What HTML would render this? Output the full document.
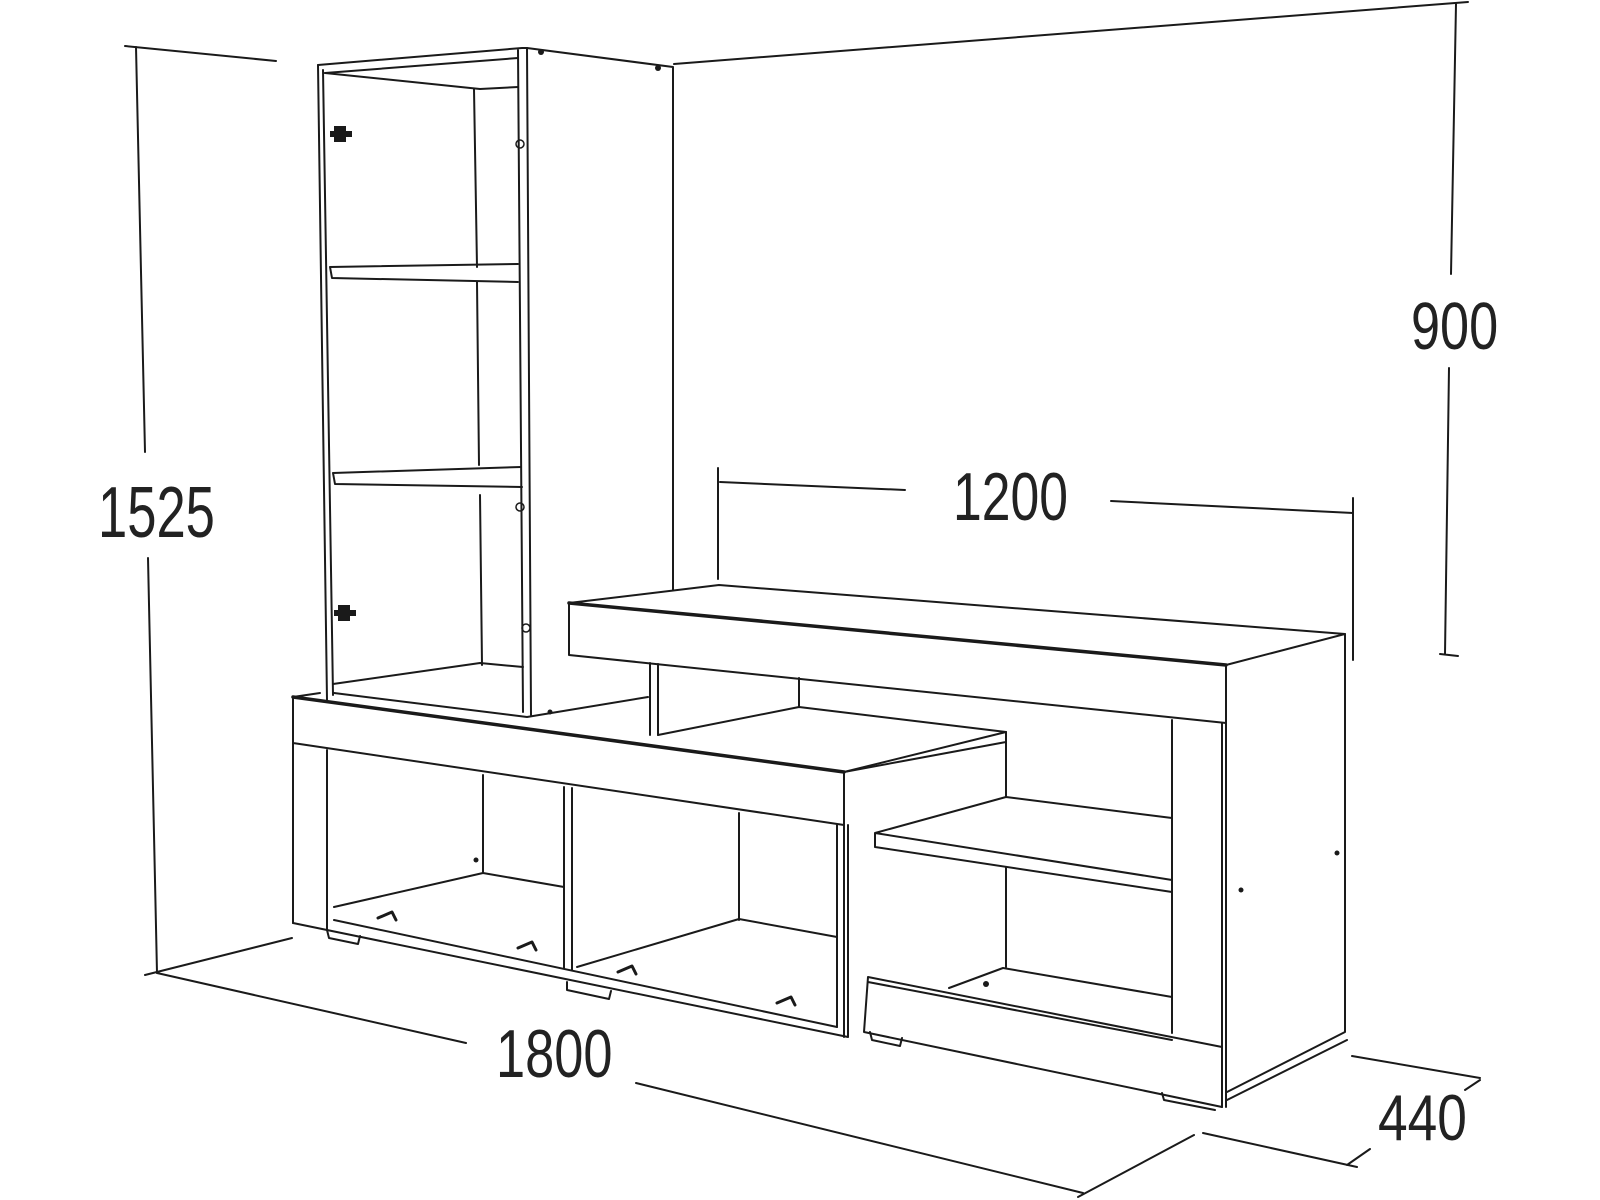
<!DOCTYPE html>
<html><head><meta charset="utf-8"><style>
html,body{margin:0;padding:0;background:#fff;}
svg{display:block;}
text{font-family:"Liberation Sans",Arial,sans-serif;fill:#222;}
</style></head><body>
<svg width="1600" height="1200" viewBox="0 0 1600 1200" xmlns="http://www.w3.org/2000/svg">
<g fill="none" stroke="#1a1a1a" stroke-width="2" stroke-linejoin="round" stroke-linecap="round">
<path d="M125 46 L276 61"/>
<path d="M136 47 L145 452 M148 558 L157 973"/>
<path d="M145 975 L292 938"/>
<path d="M157 973 L466 1043 M636 1083 L1083 1193"/>
<path d="M1078 1197 L1194 1135"/>
<path d="M1203 1133 L1357 1167 M1347 1165 L1370 1149"/>
<path d="M1352 1056 L1480 1078 M1465 1090 L1480 1080"/>
<path d="M674 64 L1468 2"/>
<path d="M1456 4 L1451 274 M1449 368 L1445 654 M1440 654 L1458 656"/>
<path d="M720 482 L905 490 M1111 501 L1353 513"/>
<path d="M718 468 L718 579 M1353 498 L1353 660"/>

<path d="M318 65 L522 48 L527 48 L673 67 L673 590"/>
<path d="M318 65 L327 700"/>
<path d="M323 70 L333 695"/>
<path d="M325 73 L518 58"/>
<path d="M325 73 L480 89 L518 87"/>
<path d="M474 89 L477 267 M477 282 L479 465 M480 495 L482 665"/>
<path d="M518 50 L523 712 M527 48 L531 715"/>
<path d="M330 267 L518 264 M332 278 L518 282 M330 267 L332 278"/>
<path d="M333 473 L521 467 M335 484 L522 487 M333 473 L335 484"/>
<path d="M333 684 L480 663 L523 667"/>
<path d="M334 693 L527 717 L648 697"/>
<path d="M293 697 L320 693"/>
<path d="M1006 732 L1006 742 L844 772"/>
<path d="M1006 732 L844 772"/>
<path d="M293 697 L844 772" stroke-width="3.5"/>
<path d="M293 697 L293 923 M293 743 L844 825 M844 772 L844 1037"/>
<path d="M327 750 L327 930"/>
<path d="M293 923 L327 930 L848 1037 L848 825"/>
<path d="M334 920 L837 1027"/>
<path d="M837 825 L837 1027"/>
<path d="M564 787 L564 968 M572 788 L572 970"/>
<path d="M483 775 L483 873 M739 813 L739 920"/>
<path d="M334 907 L483 873 L564 887 M577 967 L739 919 L837 937"/>
<path d="M327 930 L329 938 L358 944 L360 936 M567 982 L567 990 L609 999 L611 991"/>
<path d="M378 918 L392 912 L396 920 M518 948 L532 942 L536 950 M618 972 L632 966 L636 974 M777 1003 L791 997 L795 1005" stroke-width="3"/>
<path d="M569 603 L719 585 L1345 634 L1226 665 L569 603 Z"/>
<path d="M569 603 L1226 665" stroke-width="3.5"/>
<path d="M569 603 L569 655 L1226 723 L1226 665"/>
<path d="M650 663 L650 735 M658 664 L658 735"/>
<path d="M799 678 L799 707"/>
<path d="M658 735 L799 707 L1006 732"/>
<path d="M1345 634 L1345 1032 L1227 1092"/>
<path d="M1347 1040 L1227 1100"/>
<path d="M1226 723 L1226 1107 M1222 723 L1222 1107"/>
<path d="M1172 720 L1172 1033"/>
<path d="M875 833 L1006 797 L1172 818 M875 833 L1172 880 M875 847 L1172 892 M875 833 L875 847"/>
<path d="M1006 742 L1006 797 M1006 867 L1006 967"/>
<path d="M949 988 L1003 968 L1172 997"/>
<path d="M868 977 L1222 1047 M868 982 L1172 1040 M868 977 L864 1032 L1222 1107"/>
<path d="M1162 1093 L1164 1100 L1215 1110"/>
<path d="M870 1032 L872 1040 L900 1046 L902 1038"/>
</g>
<g fill="#1a1a1a">
<circle cx="541" cy="52" r="3"/><circle cx="658" cy="68" r="3"/>
<circle cx="986" cy="984" r="3"/><circle cx="1337" cy="853" r="2.5"/><circle cx="1241" cy="890" r="2.5"/>
<circle cx="476" cy="860" r="2.5"/><circle cx="550" cy="712" r="2.5"/>
<rect x="334" y="126" width="12" height="16"/><rect x="330" y="131" width="22" height="6"/>
<rect x="338" y="605" width="12" height="16"/><rect x="334" y="610" width="22" height="6"/>
</g>
<g fill="none" stroke="#1a1a1a" stroke-width="1.5">
<circle cx="520" cy="144" r="4"/><circle cx="520" cy="507" r="4"/><circle cx="526" cy="628" r="4"/>
</g>
<text transform="translate(98,537) scale(0.73,1)" font-size="72">1525</text>
<text transform="translate(1411,349) scale(0.78,1)" font-size="67">900</text>
<text transform="translate(953,520) scale(0.76,1)" font-size="68">1200</text>
<text transform="translate(496,1077) scale(0.77,1)" font-size="68">1800</text>
<text transform="translate(1378,1140) scale(0.82,1)" font-size="65">440</text>
</svg>
</body></html>
